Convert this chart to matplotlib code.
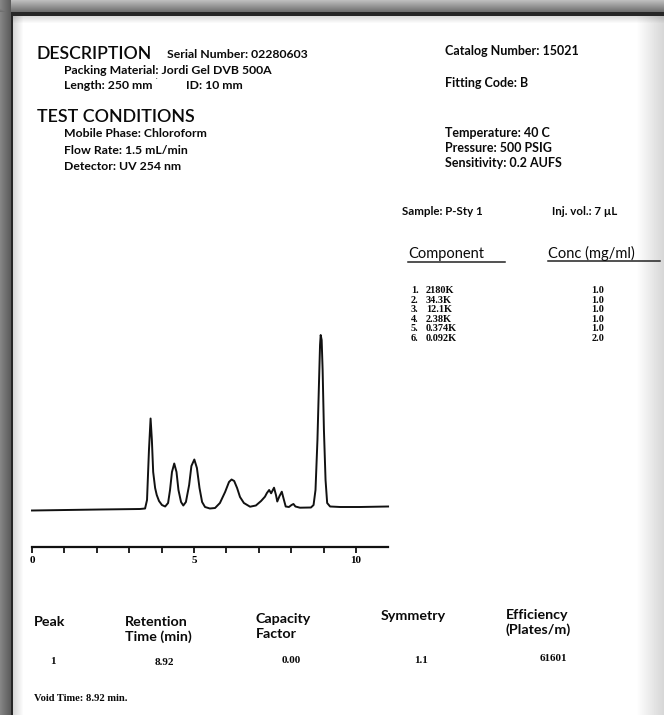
import numpy as np
import matplotlib
matplotlib.use('Agg')
import matplotlib.pyplot as plt

plt.rcParams['font.family'] = ['Lato', 'DejaVu Sans']

W, H = 664, 715

# ---- chromatogram trace (time in min, signal in arb. units) ----
trace_time = [0.00, 2.10, 3.33, 3.49, 3.55, 3.61, 3.66, 3.70, 3.74, 3.80, 3.85,
              3.92, 4.01, 4.11, 4.20, 4.26, 4.32, 4.39, 4.46, 4.52, 4.60, 4.67,
              4.75, 4.85, 4.92, 5.01, 5.09, 5.17, 5.25, 5.34, 5.49, 5.65, 5.80,
              5.96, 6.08, 6.16, 6.24, 6.33, 6.42, 6.54, 6.73, 6.91, 7.07, 7.19,
              7.25, 7.32, 7.38, 7.47, 7.53, 7.57, 7.64, 7.71, 7.76, 7.83, 7.93,
              8.01, 8.07, 8.13, 8.27, 8.61, 8.69, 8.75, 8.81, 8.86, 8.89, 8.91,
              8.94, 8.97, 9.01, 9.06, 9.11, 9.20, 9.51, 10.12, 10.99]
trace_signal = [0.0, 1.0, 1.5, 2.0, 10.5, 60.5, 92.0, 70.5, 38.5, 22.5, 15.5,
                9.5, 5.5, 4.0, 7.5, 20.5, 38.5, 47.0, 38.5, 20.5, 8.5, 5.0,
                8.5, 25.5, 44.5, 51.0, 42.5, 22.5, 8.5, 3.5, 2.0, 2.5, 7.5,
                18.5, 28.5, 31.0, 29.5, 22.5, 13.5, 7.5, 3.8, 5.0, 9.5, 13.8,
                17.5, 20.5, 17.2, 22.8, 15.5, 9.0, 14.5, 18.8, 12.5, 4.0, 3.5,
                5.5, 6.5, 4.0, 2.8, 3.0, 5.5, 20.5, 70.5, 130.5, 165.5, 175.5,
                170.5, 140.5, 80.5, 30.5, 7.5, 4.0, 3.5, 3.5, 4.0]
axis_ticks = list(range(0, 11))
axis_labels = ['0', '', '', '', '', '5', '', '', '', '', '10']

# ---- sample table ----
components = ['2180K', '34.3K', '12.1K', '2.38K', '0.374K', '0.092K']
concs = ['1.0', '1.0', '1.0', '1.0', '1.0', '2.0']

# ---- peak table ----
peak_headers = [['Peak'], ['Retention', 'Time (min)'], ['Capacity', 'Factor'],
                ['Symmetry'], ['Efficiency', '(Plates/m)']]
peak_values = ['1', '8.92', '0.00', '1.1', '61601']

fig = plt.figure(figsize=(W / 100, H / 100), dpi=100)

# ------------------------------------------------------------------ #
# page background + scanner frame                                      #
# ------------------------------------------------------------------ #
bg = fig.add_axes([0, 0, 1, 1])
bg.set_xlim(0, W)
bg.set_ylim(H, 0)
bg.axis('off')

img = np.ones((H, W))
img[:, 636:] *= np.linspace(1.0, 0.84, W - 636)[None, :]
img[:, 13:24] *= np.linspace(0.84, 1.0, 11)[None, :]
img[16:24, :] *= np.linspace(0.86, 1.0, 8)[:, None]
img[:, :11] = np.linspace(0.52, 0.36, 11)[None, :]
img[:12, :] = np.minimum(img[:12, :], np.linspace(0.74, 0.44, 12)[:, None])
img[12:, 11:13] = 0.15
img[12:16, 11:] = 0.15
bg.imshow(img, cmap='gray', vmin=0, vmax=1, extent=(0, W, H, 0),
          interpolation='nearest', aspect='auto')

INK = '#0a0a0a'

def put(x, y, s, size=8.8, weight='bold', family=None, ha='left'):
    kw = dict(fontsize=size, fontweight=weight, ha=ha, va='baseline', color=INK)
    if family:
        kw['family'] = family
    bg.text(x, y, s, **kw)

# header block
put(37, 59, 'DESCRIPTION', size=12.7, weight='semibold')
put(167, 58, 'Serial Number: 02280603')
put(63.5, 74, 'Packing Material: Jordi Gel DVB 500A')
put(63.5, 89, 'Length: 250 mm')
put(155, 84, '\u02ca', size=5, weight='normal')
put(186, 89, 'ID: 10 mm')
put(37, 122, 'TEST CONDITIONS', size=12.9, weight='semibold')
put(63.5, 137, 'Mobile Phase: Chloroform')
put(63.5, 154, 'Flow Rate: 1.5 mL/min')
put(63.5, 170, 'Detector: UV 254 nm')

put(445, 55, 'Catalog Number: 15021', size=9.0)
put(445, 87, 'Fitting Code: B', size=9.0)
put(445, 137, 'Temperature: 40 C', size=9.0)
put(445, 152, 'Pressure: 500 PSIG', size=9.0)
put(445, 167, 'Sensitivity: 0.2 AUFS', size=9.0)

# sample block
put(402, 215, 'Sample: P-Sty 1', size=8.3)
put(552, 215, 'Inj. vol.: 7 \u00b5L', size=8.3)
put(408, 258, 'Component', size=10.5, weight='normal')
put(548, 258, 'Conc (mg/ml)', size=10.5, weight='normal')
bg.plot([408, 505], [262, 262], color='#222222', lw=1.1)
bg.plot([548, 660], [261, 261], color='#222222', lw=1.1)

serif = 'Liberation Serif'
for k, (name, c) in enumerate(zip(components, concs)):
    yb = 293 + 9.6 * k
    put(411, yb, f'{k + 1}.', size=7.4, family=serif)
    put(426, yb, name, size=7.4, family=serif)
    put(598, yb, c, size=7.4, family=serif, ha='center')

# peak table
col_x = [34, 125, 256, 381, 506]
first_base = [626, 626, 623, 620, 619]
for x, yb, lines in zip(col_x, first_base, peak_headers):
    for j, line in enumerate(lines):
        put(x, yb + 15 * j, line, size=10.3)

val_x = [53, 164, 291, 421, 553]
val_base = [664, 665, 663, 663, 661]
for x, yb, v in zip(val_x, val_base, peak_values):
    put(x, yb, v, size=8, family=serif, ha='center')

put(34, 701, 'Void Time: 8.92 min.', size=7.6, family=serif)

# ------------------------------------------------------------------ #
# chromatogram                                                         #
# ------------------------------------------------------------------ #
x0, x11 = 32, 32 + 11 * 32.4
y_axis, y_top = 547, 329
ax = fig.add_axes([x0 / W, 1 - y_axis / H, (x11 - x0) / W, (y_axis - y_top) / H])
ax.patch.set_alpha(0)
ax.set_xlim(0, 11)
ax.set_ylim(-36.5, 181.5)
ax.plot(trace_time, trace_signal, color='#111111', lw=1.4,
        solid_joinstyle='round', clip_on=False)
for side in ('top', 'left', 'right'):
    ax.spines[side].set_visible(False)
ax.spines['bottom'].set_linewidth(1.6)
ax.spines['bottom'].set_color('#111111')
ax.set_yticks([])
ax.set_xticks(axis_ticks)
ax.set_xticklabels(axis_labels, family=serif, fontweight='bold', fontsize=8)
ax.tick_params(axis='x', direction='out', length=4, width=1.3,
               pad=2.5, color='#111111')

fig.savefig('out.png', dpi=100)
